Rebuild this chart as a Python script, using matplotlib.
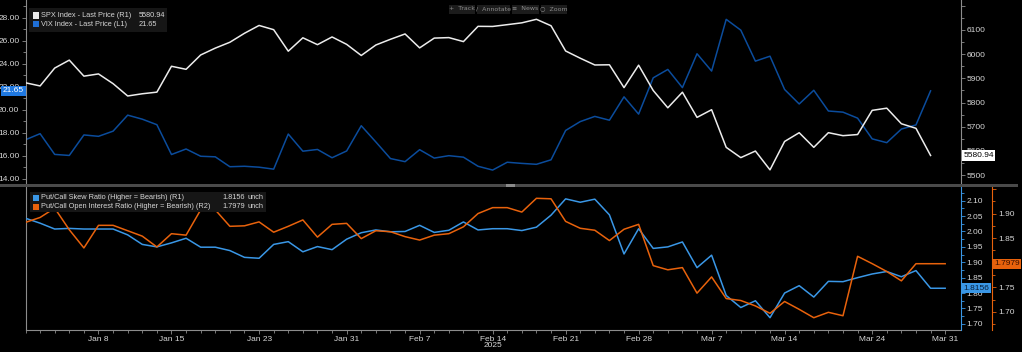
import numpy as np
import pandas as pd
import matplotlib
matplotlib.use("Agg")
import matplotlib.pyplot as plt
import matplotlib.transforms as mtransforms
from matplotlib.patches import Rectangle
from matplotlib.ticker import MultipleLocator, FixedLocator, NullFormatter

# every weekday on the axis, Jan 1 .. Mar 31 2025
days = pd.bdate_range("2025-01-01", "2025-03-31")
tick_days = ["2025-01-08", "2025-01-15", "2025-01-23", "2025-01-31", "2025-02-07",
             "2025-02-14", "2025-02-21", "2025-02-28", "2025-03-07", "2025-03-14",
             "2025-03-24", "2025-03-31"]
tick_labels = ["Jan 8", "Jan 15", "Jan 23", "Jan 31", "Feb 7", "Feb 14", "Feb 21",
               "Feb 28", "Mar 7", "Mar 14", "Mar 24", "Mar 31"]

# top panel, Jan 1 .. Mar 28
spx = [5881.63, 5868.55, 5942.47, 5975.38, 5909.03, 5918.25, 5878.0, 5827.04, 5836.22,
       5842.91, 5949.91, 5937.34, 5996.66, 6025.0, 6049.24, 6086.37, 6118.71, 6101.24,
       6012.28, 6067.70, 6039.31, 6071.17, 6040.53, 5994.57, 6037.88, 6061.48, 6083.57,
       6025.99, 6066.44, 6068.50, 6051.97, 6115.07, 6114.63, 6122.0, 6129.58, 6144.15,
       6117.52, 6013.13, 5983.25, 5955.25, 5956.06, 5861.57, 5954.50, 5849.72, 5778.15,
       5842.63, 5738.52, 5770.20, 5614.56, 5572.07, 5599.30, 5521.52, 5638.94, 5675.12,
       5614.66, 5675.29, 5662.89, 5667.56, 5767.57, 5776.65, 5712.20, 5693.31, 5580.94]
vix = [17.40, 17.93, 16.13, 16.04, 17.82, 17.70, 18.15, 19.54, 19.19, 18.71, 16.12,
       16.60, 15.97, 15.92, 15.06, 15.10, 15.02, 14.85, 17.90, 16.41, 16.56, 15.84,
       16.43, 18.62, 17.21, 15.77, 15.50, 16.54, 15.81, 16.02, 15.89, 15.10, 14.77,
       15.45, 15.35, 15.27, 15.66, 18.21, 18.98, 19.43, 19.10, 21.13, 19.63, 22.78,
       23.51, 21.93, 24.87, 23.37, 27.86, 26.92, 24.23, 24.66, 21.77, 20.51, 21.70,
       19.90, 19.80, 19.28, 17.48, 17.15, 18.33, 18.69, 21.65]

# bottom panel, Jan 1 .. Mar 31
skew = [2.043, 2.027, 2.008, 2.010, 2.008, 2.008, 2.008, 1.989, 1.958, 1.950, 1.963,
        1.978, 1.949, 1.949, 1.938, 1.916, 1.913, 1.958, 1.967, 1.934, 1.951, 1.941,
        1.975, 1.996, 2.005, 1.999, 2.000, 2.020, 1.997, 2.004, 2.031, 2.005, 2.009,
        2.009, 2.003, 2.014, 2.053, 2.106, 2.095, 2.105, 2.054, 1.927, 2.009, 1.945,
        1.950, 1.966, 1.8825, 1.923, 1.792, 1.753, 1.775, 1.720, 1.800, 1.824, 1.787,
        1.838, 1.837, 1.850, 1.862, 1.870, 1.853, 1.873, 1.8156, 1.8156]
oi_ratio = [1.882, 1.892, 1.911, 1.867, 1.830, 1.876, 1.876, 1.865, 1.854, 1.832, 1.859,
            1.856, 1.9075, 1.9075, 1.874, 1.875, 1.883, 1.862, 1.874, 1.887, 1.852, 1.878,
            1.880, 1.849, 1.865, 1.863, 1.853, 1.846, 1.856, 1.859, 1.873, 1.900, 1.912,
            1.912, 1.903, 1.931, 1.930, 1.884, 1.870, 1.866, 1.845, 1.868, 1.878, 1.794,
            1.7855, 1.790, 1.738, 1.771, 1.727, 1.723, 1.712, 1.697, 1.721, 1.705, 1.688,
            1.699, 1.692, 1.813, 1.798, 1.782, 1.763, 1.7979, 1.7979, 1.7979]

W, H = 1022, 352
FG = "#d6d6d6"
GRID = "#8c8c8c"
WHITE = "#ececec"
VIXBLUE = "#0b4c9c"
SKEWBLUE = "#3a97e6"
ORANGE = "#e8620c"
FS = 6.0
FS_LEG = 5.3

plt.rcParams["font.family"] = ["Liberation Sans", "DejaVu Sans"]


def px(x, y):
    return x / W, 1 - y / H


fig = plt.figure(figsize=(W / 100, H / 100), dpi=100, facecolor="black")

ax_top = fig.add_axes([25.5 / W, (H - 184) / H, 935 / W, 184 / H], facecolor="black")
ax_spx = ax_top.twinx()
ax_bot = fig.add_axes([25.5 / W, (H - 330) / H, 935 / W, 143 / H], facecolor="black")
ax_oi = ax_bot.twinx()

x_top = np.arange(len(spx))
x_bot = np.arange(len(skew))
xmax = len(days) + 0.05

ax_top.plot(x_top, vix, color=VIXBLUE, lw=1.1)
ax_spx.plot(x_top, spx, color=WHITE, lw=1.1)
ax_bot.plot(x_bot, skew, color=SKEWBLUE, lw=1.1, zorder=3)
ax_oi.plot(x_bot, oi_ratio, color=ORANGE, lw=1.1)

ax_top.set_xlim(0, xmax)
ax_bot.set_xlim(0, xmax)
ax_top.set_ylim(13.56, 29.54)
ax_spx.set_ylim(5463, 6224)
ax_bot.set_ylim(1.680, 2.1445)
ax_oi.set_ylim(1.663, 1.954)

for a in (ax_top, ax_spx, ax_bot, ax_oi):
    a.set_facecolor("none")
    for s in a.spines.values():
        s.set_visible(False)
    a.tick_params(colors=FG, labelsize=FS, length=3, width=0.6, pad=1.5)
    a.tick_params(which="minor", length=2, width=0.6)

# top panel axes
ax_top.set_xticks([])
ax_top.spines["left"].set_visible(True)
ax_top.spines["left"].set_color(GRID)
ax_top.yaxis.set_major_locator(MultipleLocator(2))
ax_top.yaxis.set_minor_locator(MultipleLocator(1))
ax_top.yaxis.set_major_formatter(lambda v, p: f"{v:.2f}")
ax_top.tick_params(axis="y", colors=GRID, labelcolor=FG, which="both")

ax_spx.spines["right"].set_visible(True)
ax_spx.spines["right"].set_color(GRID)
ax_spx.yaxis.set_major_locator(MultipleLocator(100))
ax_spx.yaxis.set_minor_locator(MultipleLocator(50))
ax_spx.yaxis.set_major_formatter(lambda v, p: "" if v > 6150 else f"{v:.0f}")
ax_spx.tick_params(axis="y", colors=GRID, labelcolor=FG, which="both")

# bottom panel axes
ax_bot.spines["left"].set_visible(True)
ax_bot.spines["left"].set_color(GRID)
ax_bot.spines["bottom"].set_visible(True)
ax_bot.spines["bottom"].set_color(GRID)
ax_bot.spines["right"].set_visible(True)
ax_bot.spines["right"].set_color(SKEWBLUE)
ax_bot.yaxis.tick_right()
ax_bot.yaxis.set_major_locator(MultipleLocator(0.05))
ax_bot.yaxis.set_minor_locator(MultipleLocator(0.025))
ax_bot.yaxis.set_major_formatter(lambda v, p: f"{v:.2f}")
ax_bot.tick_params(axis="y", which="both", colors=SKEWBLUE, labelcolor=FG,
                   left=False, right=True)

tick_pos = [days.get_loc(pd.Timestamp(d)) for d in tick_days]
ax_bot.xaxis.set_major_locator(FixedLocator(tick_pos))
ax_bot.set_xticklabels(tick_labels)
ax_bot.xaxis.set_minor_locator(FixedLocator(np.arange(len(days))))
ax_bot.xaxis.set_minor_formatter(NullFormatter())
ax_bot.tick_params(axis="x", which="both", colors=GRID, labelcolor=FG)
ax_bot.tick_params(axis="x", which="minor", length=2)

ax_oi.spines["right"].set_visible(True)
ax_oi.spines["right"].set_position(("axes", (991.7 - 25.5) / 935))
ax_oi.spines["right"].set_color(ORANGE)
ax_oi.yaxis.set_major_locator(MultipleLocator(0.05))
ax_oi.yaxis.set_minor_locator(MultipleLocator(0.025))
ax_oi.yaxis.set_major_formatter(lambda v, p: "" if v > 1.93 else f"{v:.2f}")
ax_oi.tick_params(axis="y", which="both", colors=ORANGE, labelcolor=FG)

# year under the date axis
feb14 = days.get_loc(pd.Timestamp("2025-02-14"))
ax_bot.text(feb14, -0.105, "2025", transform=mtransforms.blended_transform_factory(
    ax_bot.transData, ax_bot.transAxes), ha="center", va="center", color=FG, fontsize=FS)

# last value tags
tag = dict(ha="left", va="center", fontsize=FS, zorder=10)
t = mtransforms.blended_transform_factory(ax_top.transAxes, ax_top.transData)
ax_top.text(-0.0015, vix[-1], f"{vix[-1]:.2f}", transform=t, ha="right", va="center",
            fontsize=FS, color="white", zorder=10, clip_on=False,
            bbox=dict(boxstyle="square,pad=0.2", fc="#1f78e0", ec="none"))
t = mtransforms.blended_transform_factory(ax_spx.transAxes, ax_spx.transData)
ax_spx.text(1.003, spx[-1], f"{spx[-1]:.2f}", transform=t, color="black", clip_on=False,
            bbox=dict(boxstyle="square,pad=0.2", fc="white", ec="none"), **tag)
t = mtransforms.blended_transform_factory(ax_bot.transAxes, ax_bot.transData)
ax_bot.text(1.003, skew[-1], f"{skew[-1]:.4f}", transform=t, color="#0a1f3a", clip_on=False,
            bbox=dict(boxstyle="square,pad=0.2", fc=SKEWBLUE, ec="none"), **tag)
t = mtransforms.blended_transform_factory(ax_oi.transAxes, ax_oi.transData)
ax_oi.text(1.036, oi_ratio[-1], f"{oi_ratio[-1]:.4f}", transform=t, color="#3a1000",
           clip_on=False, bbox=dict(boxstyle="square,pad=0.2", fc=ORANGE, ec="none"), **tag)

# panel separator with the drag handle
fig.patches.append(Rectangle(px(0, 187), 1018 / W, 3 / H, transform=fig.transFigure,
                             fc="#4a4a4a", ec="none"))
fig.patches.append(Rectangle(px(506, 187), 9 / W, 3 / H, transform=fig.transFigure,
                             fc="#8a8a8a", ec="none"))


# legends
def legend_box(x0, y0, x1, y1, rows, val_x, unit_x=None):
    fig.patches.append(Rectangle(px(x0, y1), (x1 - x0) / W, (y1 - y0) / H,
                                 transform=fig.transFigure, fc="#161616", ec="none"))
    for yc, color, label, value in rows:
        fig.patches.append(Rectangle(px(33, yc + 3), 6 / W, 6 / H,
                                     transform=fig.transFigure, fc=color, ec="none"))
        fig.text(*px(41, yc), label, color=FG, fontsize=FS_LEG, va="center")
        fig.text(*px(val_x, yc), value, color=FG, fontsize=FS_LEG, va="center")
        if unit_x:
            fig.text(*px(unit_x, yc), "unch", color=FG, fontsize=FS_LEG, va="center")


legend_box(29, 8, 167, 32, [
    (15.5, WHITE, "SPX Index - Last Price (R1)", f"{spx[-1]:.2f}"),
    (24.0, "#1f6fd6", "VIX Index - Last Price (L1)", f"{vix[-1]:.2f}"),
], 139)
legend_box(30, 192, 266, 212, [
    (197.8, SKEWBLUE, "Put/Call Skew Ratio (Higher = Bearish) (R1)", f"{skew[-1]:.4f}"),
    (206.7, ORANGE, "Put/Call Open Interest Ratio (Higher = Bearish) (R2)", f"{oi_ratio[-1]:.4f}"),
], 222, 247)

# toolbar
for x0, x1, label in [(449, 475, "+  Track"), (477, 510, "/  Annotate"),
                      (512, 539, "≡  News"), (541, 567, "○  Zoom")]:
    fig.patches.append(Rectangle(px(x0, 13.5), (x1 - x0) / W, 9 / H,
                                 transform=fig.transFigure, fc="#1c1c1c", ec="none"))
    fig.text(*px((x0 + x1) / 2, 9), label, color="#8c8c8c", fontsize=4.5,
             ha="center", va="center", family=["DejaVu Sans"])

fig.savefig("out.png", dpi=100, facecolor="black")
